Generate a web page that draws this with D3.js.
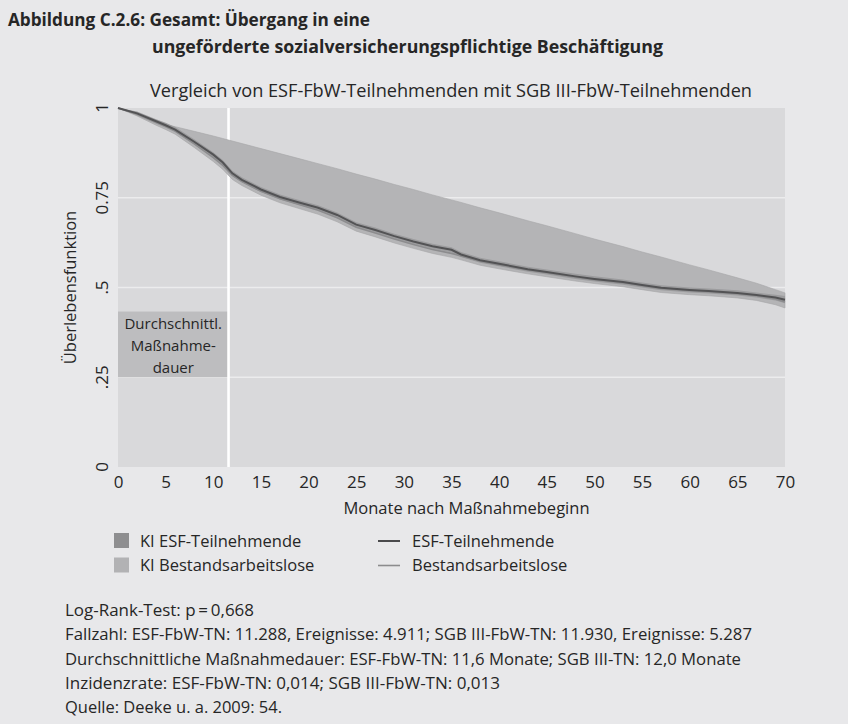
<!DOCTYPE html>
<html>
<head>
<meta charset="utf-8">
<script src="https://cdn.jsdelivr.net/npm/d3@7"></script>
<style>
  html, body { margin: 0; padding: 0; background: #e8e8ea; }
  svg { display: block; }
  text { fill: #262626; }
</style>
</head>
<body>
<svg id="chart" width="848" height="724"></svg>
<script>
// ---- data ----
const months = [0,2,4,5,6,8,10,11,12,13,15,17,19,21,23,25,27,29,31,33,35,36,38,40,43,45,48,50,53,55,57,60,62,65,67,69,70];
const esf = [1,0.985,0.963,0.952,0.94,0.906,0.87,0.848,0.818,0.8,0.773,0.752,0.737,0.722,0.702,0.675,0.66,0.643,0.628,0.615,0.605,0.592,0.576,0.566,0.551,0.543,0.531,0.524,0.515,0.507,0.499,0.493,0.49,0.485,0.479,0.472,0.466];
const bestand = [1,0.983,0.96,0.949,0.936,0.9,0.862,0.84,0.812,0.795,0.768,0.747,0.731,0.715,0.694,0.668,0.652,0.635,0.62,0.606,0.595,0.588,0.573,0.563,0.549,0.541,0.529,0.522,0.513,0.505,0.497,0.491,0.488,0.483,0.477,0.468,0.46];
const esfCiLow = [1,0.979,0.956,0.945,0.933,0.899,0.863,0.841,0.811,0.793,0.766,0.745,0.73,0.715,0.695,0.668,0.653,0.636,0.621,0.608,0.598,0.585,0.569,0.559,0.544,0.536,0.524,0.517,0.508,0.5,0.492,0.486,0.483,0.478,0.472,0.464,0.456];
const esfCiHigh = [1,0.99,0.969,0.959,0.947,0.913,0.877,0.855,0.825,0.807,0.78,0.759,0.744,0.729,0.709,0.682,0.667,0.65,0.635,0.622,0.612,0.599,0.583,0.573,0.558,0.55,0.538,0.531,0.522,0.514,0.506,0.5,0.497,0.492,0.486,0.48,0.476];
const bestCiLow = [1,0.978,0.952,0.94,0.927,0.89,0.851,0.829,0.801,0.784,0.757,0.736,0.72,0.704,0.683,0.657,0.641,0.624,0.609,0.595,0.584,0.577,0.562,0.552,0.538,0.53,0.518,0.511,0.502,0.494,0.486,0.48,0.477,0.471,0.464,0.452,0.443];
const bestCiHigh = [1,0.985,0.963,0.954,0.948,0.935,0.922,0.915,0.908,0.901,0.887,0.873,0.859,0.845,0.831,0.816,0.802,0.787,0.773,0.758,0.744,0.737,0.722,0.708,0.686,0.672,0.65,0.635,0.614,0.599,0.585,0.563,0.549,0.527,0.512,0.494,0.485];
const xTicks = [0,5,10,15,20,25,30,35,40,45,50,55,60,65,70];
const yTicks = [0,0.25,0.5,0.75,1];
const yTickLabels = ["0",".25",".5","0.75","1"];
const avgDuration = 11.6;
const avgBoxTop = 0.433;
const boxLines = ["Durchschnittl.","Maßnahme-","dauer"];
const legendItems = [
  {label:"KI ESF-Teilnehmende", type:"rect", color:"#8e8e90"},
  {label:"KI Bestandsarbeitslose", type:"rect", color:"#b2b2b4"},
  {label:"ESF-Teilnehmende", type:"line", color:"#4a4a4c"},
  {label:"Bestandsarbeitslose", type:"line", color:"#8c8c8e"}
];
const footer = [
  "Log-Rank-Test: p\u2009=\u20090,668",
  "Fallzahl: ESF-FbW-TN: 11.288, Ereignisse: 4.911; SGB III-FbW-TN: 11.930, Ereignisse: 5.287",
  "Durchschnittliche Maßnahmedauer: ESF-FbW-TN: 11,6 Monate; SGB III-TN: 12,0 Monate",
  "Inzidenzrate: ESF-FbW-TN: 0,014; SGB III-FbW-TN: 0,013",
  "Quelle: Deeke u. a. 2009: 54."
];
const footerWidths = [189, 687, 676, 435, 217];

// ---- drawing ----
const svg = d3.select("#chart");
const font = "'Open Sans', 'DejaVu Sans', sans-serif";

const pL = 118, pR = 785, pT = 108, pB = 467;
const x = d3.scaleLinear().domain([0,70]).range([pL,pR]);
const y = d3.scaleLinear().domain([0,1]).range([pB,pT]);

// titles
svg.append("text").attr("x",8).attr("y",26).attr("font-family",font).attr("font-weight","bold")
  .attr("font-size",17.5).attr("textLength",362).attr("lengthAdjust","spacingAndGlyphs")
  .text("Abbildung C.2.6: Gesamt: Übergang in eine");
svg.append("text").attr("x",152).attr("y",53).attr("font-family",font).attr("font-weight","bold")
  .attr("font-size",17.5).attr("textLength",511).attr("lengthAdjust","spacingAndGlyphs")
  .text("ungeförderte sozialversicherungspflichtige Beschäftigung");
svg.append("text").attr("x",150).attr("y",97).attr("font-family",font)
  .attr("font-size",17.5).attr("textLength",602).attr("lengthAdjust","spacingAndGlyphs")
  .text("Vergleich von ESF-FbW-Teilnehmenden mit SGB III-FbW-Teilnehmenden");

// plot background
svg.append("rect").attr("x",pL).attr("y",pT).attr("width",pR-pL).attr("height",pB-pT).attr("fill","#d9d9db");

// grid
svg.append("g").selectAll("line").data([0.25,0.5,0.75]).join("line")
  .attr("x1",pL).attr("x2",pR).attr("y1",d=>y(d)).attr("y2",d=>y(d))
  .attr("stroke","#ececed").attr("stroke-width",1.5);

// avg duration box
svg.append("rect").attr("x",x(0)).attr("y",y(avgBoxTop)).attr("width",x(avgDuration)-x(0))
  .attr("height",y(0.25)-y(avgBoxTop)).attr("fill","#bdbdbf");
svg.append("g").selectAll("text").data(boxLines).join("text")
  .attr("x",(x(0)+x(avgDuration))/2).attr("y",(d,i)=>y(avgBoxTop)+17+i*22)
  .attr("text-anchor","middle").attr("font-family",font).attr("font-size",15).text(d=>d);

// vertical line
svg.append("line").attr("x1",x(avgDuration)).attr("x2",x(avgDuration)).attr("y1",pT).attr("y2",pB)
  .attr("stroke","#ffffff").attr("stroke-width",2.6);

const idx = months.map((m,i)=>i);
const area = (lo,hi)=>d3.area().x(i=>x(months[i])).y0(i=>y(lo[i])).y1(i=>y(hi[i]));
const line = (arr)=>d3.line().x(i=>x(months[i])).y(i=>y(arr[i]));

svg.append("path").attr("d",area(bestCiLow,bestCiHigh)(idx)).attr("fill","#b4b4b6")
  .attr("stroke","#a6a6a8").attr("stroke-width",0.6);
svg.append("path").attr("d",area(esfCiLow,esfCiHigh)(idx)).attr("fill","#9c9c9e");
svg.append("path").attr("d",line(bestand)(idx)).attr("fill","none").attr("stroke","#8c8c8e").attr("stroke-width",1.6);
svg.append("path").attr("d",line(esf)(idx)).attr("fill","none").attr("stroke","#535355").attr("stroke-width",2);

// axes
const xAxis = svg.append("g").attr("transform",`translate(0,${pB})`)
  .call(d3.axisBottom(x).tickValues(xTicks).tickSize(0).tickPadding(9));
xAxis.select(".domain").remove();
xAxis.selectAll("text").attr("font-family",font).attr("font-size",17).attr("fill","#262626");

const yAxis = svg.append("g").attr("transform",`translate(${pL},0)`)
  .call(d3.axisLeft(y).tickValues(yTicks).tickSize(0).tickFormat((d,i)=>yTickLabels[i]));
yAxis.select(".domain").remove();
yAxis.selectAll(".tick").attr("transform",null);
yAxis.selectAll("text").attr("font-family",font).attr("font-size",17).attr("fill","#262626")
  .attr("text-anchor","middle")
  .attr("transform",function(d){ return `translate(-16,${y(d)}) rotate(-90)`; })
  .attr("x",0).attr("y",0).attr("dy","0.35em");

svg.append("text").attr("transform",`translate(76,${(pT+pB)/2}) rotate(-90)`)
  .attr("text-anchor","middle").attr("font-family",font).attr("font-size",16.5).text("Überlebensfunktion");
svg.append("text").attr("x",(pL+pR)/2+15).attr("y",514).attr("text-anchor","middle")
  .attr("font-family",font).attr("font-size",16.5).text("Monate nach Maßnahmebeginn");

// legend
const lg = svg.append("g");
legendItems.forEach((d,i)=>{
  const col = Math.floor(i/2), row = i%2;
  const gx = col===0 ? 114 : 378, gy = 541 + row*24.5;
  if (d.type==="rect") {
    lg.append("rect").attr("x",gx).attr("y",gy-8).attr("width",15).attr("height",15).attr("fill",d.color);
  } else {
    lg.append("line").attr("x1",gx).attr("x2",gx+22).attr("y1",gy).attr("y2",gy)
      .attr("stroke",d.color).attr("stroke-width",d.label==="ESF-Teilnehmende"?2:1.6);
  }
  lg.append("text").attr("x",col===0?140:412).attr("y",gy).attr("dy","0.35em")
    .attr("font-family",font).attr("font-size",16.5).text(d.label);
});

// footer
svg.append("g").selectAll("text").data(footer).join("text")
  .attr("x",65).attr("y",(d,i)=>616+i*24.3).attr("font-family",font).attr("font-size",15.5)
  .attr("textLength",(d,i)=>footerWidths[i]).attr("lengthAdjust","spacingAndGlyphs")
  .text(d=>d);
</script>
</body>
</html>
